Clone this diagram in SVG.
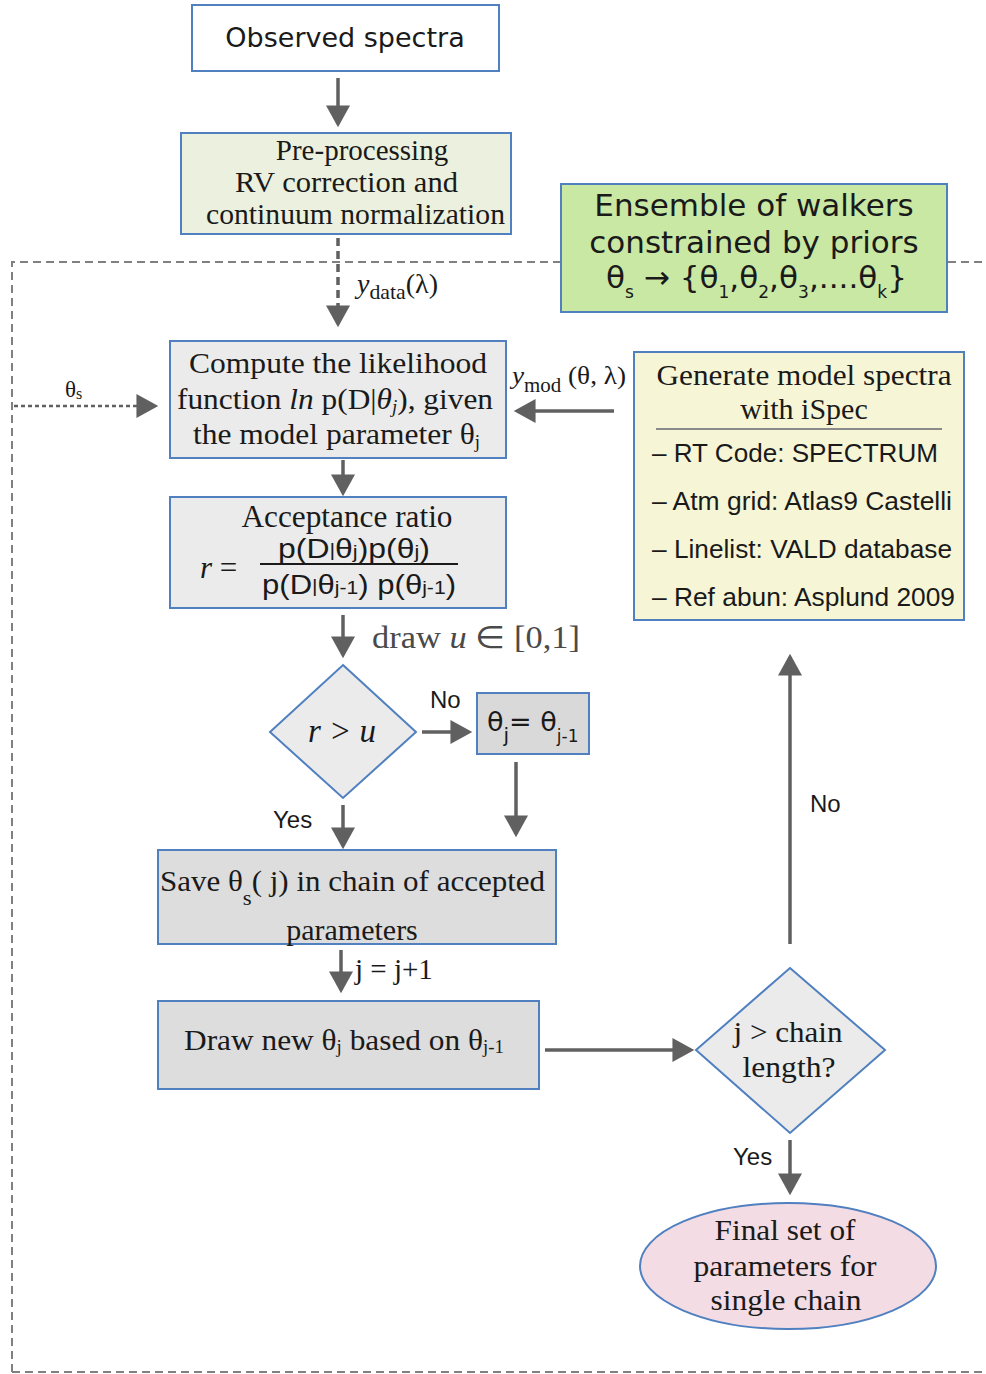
<svg xmlns="http://www.w3.org/2000/svg" width="986" height="1374" viewBox="0 0 986 1374">
<defs>
<marker id="ah" markerUnits="userSpaceOnUse" markerWidth="24" markerHeight="24" viewBox="0 0 20 22" refX="17" refY="11" orient="auto">
<path d="M0,0 L20,11 L0,22 z" fill="#606060"/>
</marker>
<style>
.box{stroke:#5080c0;stroke-width:2}
.serif{font-family:"Liberation Serif","Times New Roman",serif;fill:#1a1a1a}
.sans{font-family:"Liberation Sans",Arial,sans-serif;fill:#1a1a1a}
.dv{font-family:"DejaVu Sans",sans-serif;fill:#1a1a1a}
.conn{stroke:#606060;stroke-width:3.5;fill:none}
.dash{stroke:#808080;stroke-width:2;fill:none;stroke-dasharray:8 5}
</style>
</defs>
<rect width="986" height="1374" fill="#ffffff"/>

<g id="frame">
<path class="dash" d="M12,1372 V262 H560"/>
<path class="dash" d="M948,262 H986"/>
<path class="dash" d="M12,1372 H986"/>
</g>

<g id="connectors">
<line class="conn" x1="338" y1="78" x2="338" y2="124" marker-end="url(#ah)"/>
<line stroke="#606060" stroke-width="3.5" stroke-dasharray="8 5" x1="338" y1="238" x2="338" y2="324" marker-end="url(#ah)"/>
<line stroke="#606060" stroke-width="2.5" stroke-dasharray="4 3" x1="14" y1="406" x2="155" y2="406" marker-end="url(#ah)"/>
<line class="conn" x1="614" y1="411" x2="517" y2="411" marker-end="url(#ah)"/>
<line class="conn" x1="343" y1="460" x2="343" y2="493" marker-end="url(#ah)"/>
<line class="conn" x1="343" y1="615" x2="343" y2="655" marker-end="url(#ah)"/>
<line class="conn" x1="422" y1="732" x2="469" y2="732" marker-end="url(#ah)"/>
<line class="conn" x1="516" y1="762" x2="516" y2="834" marker-end="url(#ah)"/>
<line class="conn" x1="343" y1="805" x2="343" y2="846" marker-end="url(#ah)"/>
<line class="conn" x1="341" y1="950" x2="341" y2="990" marker-end="url(#ah)"/>
<line class="conn" x1="545" y1="1050" x2="691" y2="1050" marker-end="url(#ah)"/>
<line class="conn" x1="790" y1="944" x2="790" y2="657" marker-end="url(#ah)"/>
<line class="conn" x1="790" y1="1140" x2="790" y2="1192" marker-end="url(#ah)"/>
</g>

<g id="labels">
<text class="serif" x="357" y="293" font-size="27" textLength="81" lengthAdjust="spacingAndGlyphs"><tspan font-style="italic">y</tspan><tspan font-size="21" dy="6">data</tspan><tspan dy="-6">(λ)</tspan></text>
<text class="serif" x="65" y="397" font-size="23">θ<tspan font-size="16" dy="2">s</tspan></text>
<text class="serif" x="512" y="384" font-size="26" textLength="114" lengthAdjust="spacingAndGlyphs"><tspan font-style="italic">y</tspan><tspan font-size="20" dy="8">mod</tspan><tspan dy="-8"> (θ, λ)</tspan></text>
<text class="serif" x="372" y="648" font-size="31" style="fill:#4a4a4a" textLength="208" lengthAdjust="spacingAndGlyphs">draw <tspan font-style="italic">u</tspan> ∈ [0,1]</text>
<text class="sans" x="430" y="708" font-size="24">No</text>
<text class="sans" x="273" y="828" font-size="24">Yes</text>
<text class="serif" x="355" y="979" font-size="29">j = j+1</text>
<text class="sans" x="810" y="812" font-size="24">No</text>
<text class="sans" x="733" y="1165" font-size="24">Yes</text>
</g>

<g id="observed">
<rect class="box" x="192" y="5" width="307" height="66" fill="#ffffff"/>
<text class="dv" x="345" y="47" font-size="27" text-anchor="middle">Observed spectra</text>
</g>

<g id="preprocessing">
<rect class="box" x="181" y="133" width="330" height="101" fill="#ebf1de"/>
<text class="serif" x="362" y="160" font-size="29" text-anchor="middle">Pre-processing</text>
<text class="serif" x="235" y="192" font-size="29" textLength="223" lengthAdjust="spacingAndGlyphs">RV correction  and</text>
<text class="serif" x="206" y="224" font-size="29" textLength="299" lengthAdjust="spacingAndGlyphs">continuum normalization</text>
</g>

<g id="ensemble">
<rect class="box" x="561" y="184" width="386" height="128" fill="#c9e8a3"/>
<text class="dv" x="754" y="216" font-size="31" text-anchor="middle">Ensemble of walkers</text>
<text class="dv" x="754" y="253" font-size="31" text-anchor="middle">constrained by priors</text>
<text class="dv" x="606" y="288" font-size="31" textLength="301" lengthAdjust="spacingAndGlyphs">θ<tspan font-size="17" dy="10">s</tspan><tspan dy="-10"> → {θ</tspan><tspan font-size="17" dy="10">1</tspan><tspan dy="-10">,θ</tspan><tspan font-size="17" dy="10">2</tspan><tspan dy="-10">,θ</tspan><tspan font-size="17" dy="10">3</tspan><tspan dy="-10">,....θ</tspan><tspan font-size="17" dy="10">k</tspan><tspan dy="-10">}</tspan></text>
</g>

<g id="likelihood">
<rect class="box" x="170" y="341" width="336" height="117" fill="#ebebeb"/>
<text class="serif" x="338" y="373" font-size="30" text-anchor="middle" textLength="298" lengthAdjust="spacingAndGlyphs">Compute the likelihood</text>
<text class="serif" x="177" y="409" font-size="30" textLength="316" lengthAdjust="spacingAndGlyphs">function <tspan font-style="italic">ln</tspan> p(D|<tspan font-style="italic">θ</tspan><tspan font-style="italic" font-size="18" dy="4">j</tspan><tspan dy="-4">), given</tspan></text>
<text class="serif" x="193" y="444" font-size="30" textLength="287" lengthAdjust="spacingAndGlyphs">the model parameter θ<tspan font-size="18" dy="4">j</tspan></text>
</g>

<g id="generate">
<rect class="box" x="634" y="352" width="330" height="268" fill="#f6f6d7"/>
<text class="serif" x="804" y="385" font-size="30" text-anchor="middle" textLength="295" lengthAdjust="spacingAndGlyphs">Generate model spectra</text>
<text class="serif" x="804" y="419" font-size="30" text-anchor="middle">with iSpec</text>
<line x1="656" y1="429" x2="942" y2="429" stroke="#8a8a8a" stroke-width="2"/>
<text class="sans" x="652" y="462" font-size="26" textLength="286" lengthAdjust="spacingAndGlyphs">– RT Code: SPECTRUM</text>
<text class="sans" x="652" y="510" font-size="26" textLength="300" lengthAdjust="spacingAndGlyphs">– Atm grid: Atlas9 Castelli</text>
<text class="sans" x="652" y="558" font-size="26" textLength="300" lengthAdjust="spacingAndGlyphs">– Linelist: VALD database</text>
<text class="sans" x="652" y="606" font-size="26" textLength="303" lengthAdjust="spacingAndGlyphs">– Ref abun: Asplund 2009</text>
</g>

<g id="acceptance">
<rect class="box" x="170" y="497" width="336" height="111" fill="#ebebeb"/>
<text class="serif" x="347" y="527" font-size="31" text-anchor="middle" textLength="211" lengthAdjust="spacingAndGlyphs">Acceptance ratio</text>
<text class="serif" x="200" y="578" font-size="31"><tspan font-style="italic">r</tspan> =</text>
<text class="sans" x="278" y="558" font-size="28" textLength="152" lengthAdjust="spacingAndGlyphs">p(D<tspan font-size="19" dy="-2">|</tspan><tspan dy="2">θ</tspan><tspan font-size="19">j</tspan>)p(θ<tspan font-size="19">j</tspan>)</text>
<line x1="260" y1="564" x2="458" y2="564" stroke="#1a1a1a" stroke-width="2"/>
<text class="sans" x="262" y="594" font-size="28" textLength="194" lengthAdjust="spacingAndGlyphs">p(D<tspan font-size="19" dy="-2">|</tspan><tspan dy="2">θ</tspan><tspan font-size="19">j-1</tspan>) p(θ<tspan font-size="19">j-1</tspan>)</text>
</g>

<g id="decision-ru">
<polygon class="box" points="343,665 416,732 343,798 270,732" fill="#ebebeb"/>
<text class="serif" x="342" y="742" font-size="33" font-style="italic" text-anchor="middle">r &gt; u</text>
</g>

<g id="theta-reset">
<rect class="box" x="477" y="693" width="112" height="61" fill="#d9d9d9"/>
<text class="dv" x="487" y="731" font-size="27">θ<tspan font-size="20" dy="11">j</tspan><tspan dy="-11">= θ</tspan><tspan font-size="17" dy="11">j-1</tspan></text>
</g>

<g id="save">
<rect class="box" x="158" y="850" width="398" height="94" fill="#dddddd"/>
<text class="serif" x="160" y="891" font-size="30" textLength="385" lengthAdjust="spacingAndGlyphs">Save θ<tspan font-size="22" dy="14">s</tspan><tspan dy="-14">( j) in chain of accepted</tspan></text>
<text class="serif" x="352" y="940" font-size="30" text-anchor="middle">parameters</text>
</g>

<g id="draw">
<rect class="box" x="158" y="1001" width="381" height="88" fill="#dddddd"/>
<text class="serif" x="184" y="1050" font-size="30" textLength="320" lengthAdjust="spacingAndGlyphs">Draw new θ<tspan font-size="18" dy="3">j</tspan><tspan dy="-3"> based on θ</tspan><tspan font-size="18" dy="3">j-1</tspan></text>
</g>

<g id="decision-chain">
<polygon class="box" points="790,968 885,1050 790,1133 696,1050" fill="#ebebeb"/>
<text class="serif" x="788" y="1042" font-size="30" text-anchor="middle" textLength="109" lengthAdjust="spacingAndGlyphs">j &gt; chain</text>
<text class="serif" x="789" y="1077" font-size="30" text-anchor="middle" textLength="93" lengthAdjust="spacingAndGlyphs">length?</text>
</g>

<g id="final">
<ellipse class="box" cx="788" cy="1266" rx="148" ry="63" fill="#f4dce4"/>
<text class="serif" x="785" y="1240" font-size="29" text-anchor="middle" textLength="141" lengthAdjust="spacingAndGlyphs">Final set of</text>
<text class="serif" x="785" y="1276" font-size="29" text-anchor="middle" textLength="183" lengthAdjust="spacingAndGlyphs">parameters for</text>
<text class="serif" x="786" y="1310" font-size="29" text-anchor="middle" textLength="151" lengthAdjust="spacingAndGlyphs">single chain</text>
</g>
</svg>
